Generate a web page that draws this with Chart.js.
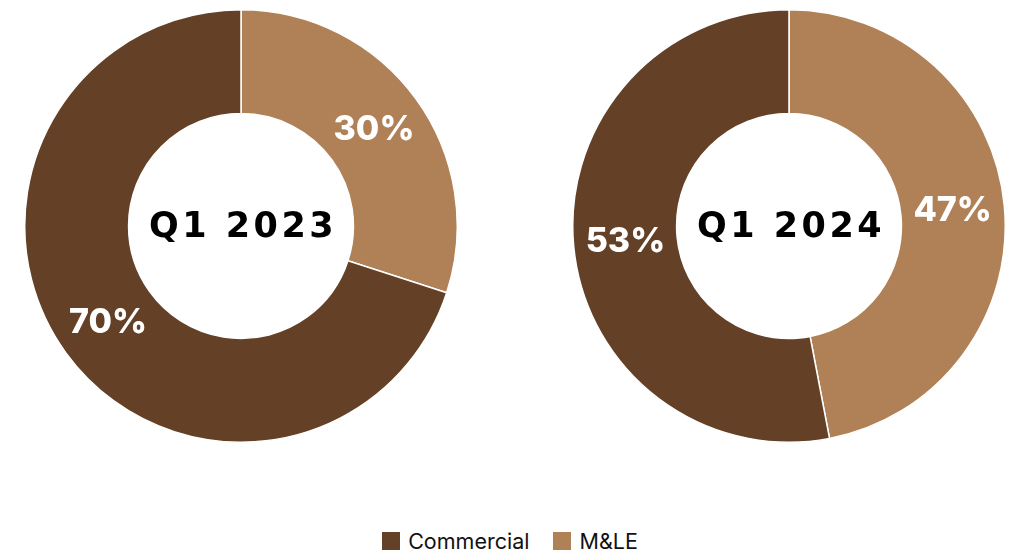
<!DOCTYPE html>
<html>
<head>
<meta charset="utf-8">
<script src="https://cdn.jsdelivr.net/npm/chart.js@4"></script>
<style>
  html, body { margin: 0; padding: 0; background: #fff; }
  body { width: 1012px; height: 552px; position: relative; overflow: hidden; }
  .pie { position: absolute; top: 9px; width: 434px; height: 434px; }
  #legend { position: absolute; left: 8px; right: 0; top: 528px; display: flex; justify-content: center;
            font-family: Inter, "Noto Sans", sans-serif; font-size: 21.5px; color: #111; }
  #legend span { display: flex; align-items: center; margin: 0 12px; }
  #legend i { display: inline-block; width: 18px; height: 18px; margin-right: 8px; }
</style>
</head>
<body>
<div class="pie" style="left:24px"><canvas id="chart2023"></canvas></div>
<div class="pie" style="left:572px"><canvas id="chart2024"></canvas></div>
<div id="legend"></div>
<script>
// Segments run clockwise from 12 o'clock: M&LE first, then Commercial
var segments = ['M&LE', 'Commercial'];
var segmentColors = ['#b08156', '#634026'];
var share2023 = [30, 70];
var share2024 = [47, 53];
var legendOrder = ['Commercial', 'M&LE'];

// center caption + percentage inside each slice
var doughnutText = {
  id: 'doughnutText',
  afterDatasetsDraw: function(chart) {
    var ctx = chart.ctx;
    var meta = chart.getDatasetMeta(0);
    ctx.save();
    ctx.fillStyle = '#fff';
    ctx.font = '800 34px Inter, "DejaVu Sans", sans-serif';
    ctx.textAlign = 'center';
    ctx.textBaseline = 'middle';
    meta.data.forEach(function(arc, i) {
      var p = arc.tooltipPosition();
      ctx.fillText(chart.data.datasets[0].data[i] + '%', p.x, p.y);
    });
    var c = meta.data[0];
    ctx.fillStyle = '#000';
    ctx.font = 'bold 35px "DejaVu Sans", sans-serif';
    ctx.letterSpacing = '3.5px';
    ctx.fillText(chart.options.plugins.centerLabel, c.x + 2, c.y + 2);
    ctx.restore();
  }
};

function makeDoughnut(id, values, caption) {
  var ctx = document.getElementById(id).getContext('2d');
  return new Chart(ctx, {
    type: 'doughnut',
    data: {
      labels: segments,
      datasets: [{
        data: values,
        backgroundColor: segmentColors,
        borderColor: '#fff',
        borderWidth: 1.5
      }]
    },
    options: {
      responsive: true,
      maintainAspectRatio: false,
      animation: false,
      cutout: '52%',
      layout: { padding: 0 },
      plugins: {
        legend: { display: false },
        tooltip: { enabled: false },
        centerLabel: caption
      }
    },
    plugins: [doughnutText]
  });
}

makeDoughnut('chart2023', share2023, 'Q1 2023');
makeDoughnut('chart2024', share2024, 'Q1 2024');

// shared legend below both charts
var legend = document.getElementById('legend');
legendOrder.forEach(function(name) {
  var item = document.createElement('span');
  var box = document.createElement('i');
  box.style.background = segmentColors[segments.indexOf(name)];
  item.appendChild(box);
  item.appendChild(document.createTextNode(name));
  legend.appendChild(item);
});
</script>
</body>
</html>
